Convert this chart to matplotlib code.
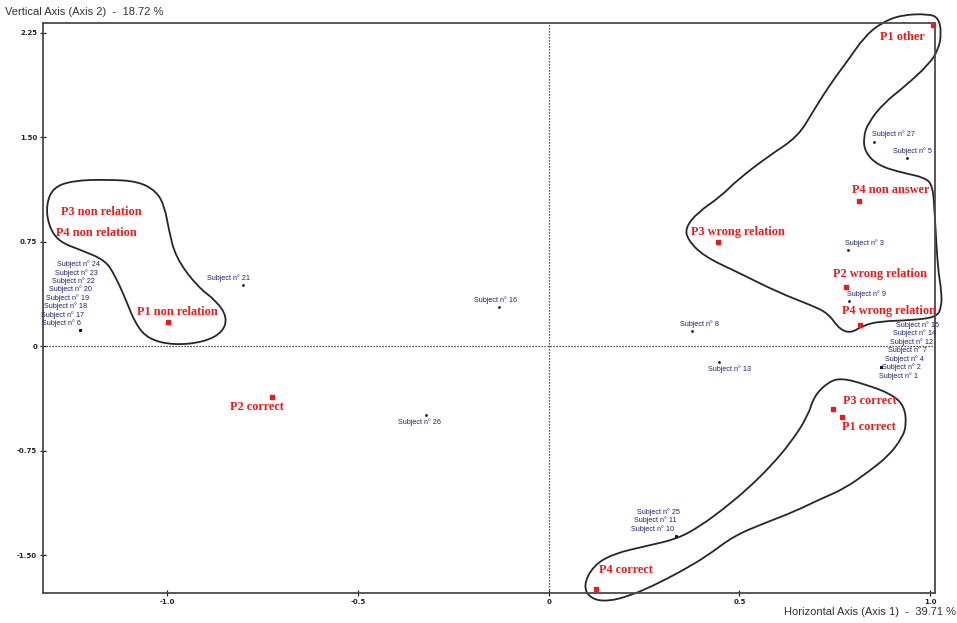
import numpy as np
import matplotlib
matplotlib.use("Agg")
import matplotlib.pyplot as plt
from matplotlib.path import Path
from matplotlib.patches import PathPatch

# Modalities (red squares) - coordinates on axis 1 / axis 2
modalities = ["P1 other", "P4 non answer", "P3 wrong relation", "P2 wrong relation",
              "P4 wrong relation", "P3 correct", "P1 correct", "P4 correct",
              "P1 non relation", "P2 correct"]
mod_x = [1.009, 0.814, 0.443, 0.780, 0.817, 0.746, 0.769, 0.125, -0.999, -0.725]
mod_y = [2.307, 1.039, 0.745, 0.423, 0.150, -0.451, -0.509, -1.741, 0.172, -0.366]

# modalities whose marker is not visible (only label shown)
hidden_mods = ["P3 non relation", "P4 non relation"]
hidden_x = [-1.174, -1.187]
hidden_y = [0.965, 0.813]

# Subjects (blue labels)
subjects = ["27", "5", "3", "9", "8", "21", "16", "13", "26",
            "6", "17", "18", "19", "20", "22", "23", "24",
            "1", "2", "4", "7", "12", "14", "15",
            "10", "11", "25"]
subj_x = [0.854, 0.940, 0.786, 0.788, 0.377, -0.801, -0.130, 0.446, -0.321,
          -1.228, -1.228, -1.228, -1.228, -1.228, -1.228, -1.228, -1.228,
          0.872, 0.872, 0.872, 0.872, 0.872, 0.872, 0.872,
          0.333, 0.333, 0.333]
subj_y = [1.468, 1.347, 0.688, 0.322, 0.107, 0.437, 0.279, -0.115, -0.494,
          0.115, 0.115, 0.115, 0.115, 0.115, 0.115, 0.115, 0.115,
          -0.150, -0.150, -0.150, -0.150, -0.150, -0.150, -0.150,
          -1.361, -1.361, -1.361]

# hand-drawn cluster outlines
left_x = [-1.299, -1.246, -1.154, -1.075, -1.028, -1.007, -0.996, -0.978, -0.922, -0.870,
          -0.843, -0.854, -0.904, -0.983, -1.049, -1.083, -1.109, -1.136, -1.162, -1.225,
          -1.286, -1.312, -1.317]
left_y = [1.139, 1.189, 1.196, 1.182, 1.110, 1.003, 0.838, 0.638, 0.430, 0.322,
          0.208, 0.100, 0.029, 0.007, 0.050, 0.158, 0.337, 0.501, 0.616, 0.688,
          0.752, 0.874, 1.017]
right_x = [0.872, 0.925, 0.996, 1.022, 1.030, 1.022, 0.996, 0.933, 0.880, 0.838, 0.825,
           0.830, 0.864, 0.925, 0.986, 1.007, 1.012, 1.017, 1.022, 1.030, 1.030, 1.017,
           0.951, 0.872, 0.825, 0.793, 0.762, 0.733, 0.688, 0.601, 0.496, 0.407, 0.364,
           0.359, 0.391, 0.451, 0.496, 0.575, 0.654, 0.696, 0.741, 0.786, 0.828]
right_y = [2.321, 2.378, 2.385, 2.357, 2.249, 2.128, 2.020, 1.862, 1.748, 1.605, 1.497,
           1.390, 1.297, 1.246, 1.211, 1.153, 0.960, 0.716, 0.530, 0.394, 0.279, 0.208,
           0.186, 0.179, 0.150, 0.093, 0.122, 0.236, 0.294, 0.387, 0.530, 0.645, 0.766,
           0.852, 0.960, 1.074, 1.196, 1.361, 1.504, 1.698, 1.891, 2.056, 2.221]
low_x = [0.733, 0.767, 0.828, 0.899, 0.933, 0.938, 0.925, 0.891, 0.838, 0.775, 0.714,
         0.643, 0.575, 0.486, 0.417, 0.346, 0.275, 0.214, 0.154, 0.109, 0.091, 0.117,
         0.170, 0.259, 0.338, 0.399, 0.459, 0.522, 0.583, 0.636, 0.680, 0.696]
low_y = [-0.258, -0.229, -0.272, -0.344, -0.430, -0.573, -0.666, -0.788, -0.903, -1.024,
         -1.096, -1.189, -1.261, -1.361, -1.504, -1.619, -1.719, -1.791, -1.834, -1.812,
         -1.719, -1.576, -1.490, -1.433, -1.383, -1.289, -1.168, -1.024, -0.860, -0.688,
         -0.501, -0.358]

xticks = [-1.0, -0.5, 0.0, 0.5, 1.0]
xtick_labels = ["-1.0", "-0.5", "0", "0.5", "1.0"]
yticks = [2.25, 1.50, 0.75, 0.0, -0.75, -1.50]
ytick_labels = ["2.25", "1.50", "0.75", "0", "-0.75", "-1.50"]

RED = "#f01818"
NAVY = "#1e1e78"


def smooth_outline(xs, ys):
    # closed quadratic-bezier path: outline vertices act as control points
    p = np.column_stack([xs, ys])
    mids = (p + np.roll(p, -1, axis=0)) / 2
    verts = [mids[-1]]
    codes = [Path.MOVETO]
    for i in range(len(p)):
        verts += [p[i], mids[i]]
        codes += [Path.CURVE3, Path.CURVE3]
    return Path(verts, codes)


fig = plt.figure(figsize=(9.57, 6.23), dpi=100)
ax = fig.add_axes([0.0452, 0.0482, 0.9318, 0.9154])
ax.set_xlim(-1.325, 1.013)
ax.set_ylim(-1.772, 2.322)

ax.axhline(0, color="#222222", lw=0.9, ls=(0, (1, 1.4)), zorder=1)
ax.axvline(0, color="#222222", lw=0.9, ls=(0, (1, 1.4)), zorder=1)

# outlines
for cx, cy in [(left_x, left_y), (right_x, right_y), (low_x, low_y)]:
    ax.add_patch(PathPatch(smooth_outline(cx, cy), facecolor="none", edgecolor="#262626",
                           lw=1.3, clip_on=False, zorder=2))

# modalities
ax.plot(mod_x, mod_y, ls="none", marker="s", ms=3.4, color=RED, zorder=4)
mod_offsets = {
    "P1 other": (-31.5, -12.7), "P4 non answer": (32, 11),
    "P3 wrong relation": (20.5, 10), "P2 wrong relation": (34, 13),
    "P4 wrong relation": (29, 14), "P3 correct": (37, 8),
    "P1 correct": (26.5, -10), "P4 correct": (29.5, 19),
    "P1 non relation": (9.5, 10), "P2 correct": (-15.5, -10),
}
serif = dict(family=["Liberation Serif", "DejaVu Serif"], fontsize=8.8, color=RED,
             fontweight="semibold")
for name, x, y in zip(modalities, mod_x, mod_y):
    ax.annotate(name, (x, y), xytext=mod_offsets[name], textcoords="offset pixels",
                ha="center", va="center", annotation_clip=False, zorder=5, **serif)
for name, x, y in zip(hidden_mods, hidden_x, hidden_y):
    ax.text(x, y, name, ha="center", va="center", zorder=5, **serif)

# subjects
ax.plot(subj_x, subj_y, ls="none", marker="o", ms=2.0, mew=0, color="#111133", zorder=4)
single = {"27": (19.5, 7), "5": (5.5, 7), "3": (16.5, 7), "9": (17, 7), "8": (7.5, 7),
          "21": (-15, 7), "16": (-3, 7), "13": (11, -7), "26": (-6.5, -7)}
groups = [
    (["6", "17", "18", "19", "20", "22", "23", "24"], "right", (1, 7), (2.7, 8.4)),
    (["1", "2", "4", "7", "12", "14", "15"], "left", (-2, -8.7), (2.8, 8.5)),
    (["10", "11", "25"], "right", (-2, 7), (3, 8.3)),
]
sans = dict(family=["Liberation Sans", "DejaVu Sans"], fontsize=5.2, color=NAVY)
lookup = {s: (x, y) for s, x, y in zip(subjects, subj_x, subj_y)}
for s, off in single.items():
    ax.annotate("Subject n° " + s, lookup[s], xytext=off, textcoords="offset pixels",
                ha="center", va="center", zorder=5, **sans)
for members, ha, base, step in groups:
    for i, s in enumerate(members):
        off = (base[0] + i * step[0], base[1] + i * step[1])
        ax.annotate("Subject n° " + s, lookup[s], xytext=off, textcoords="offset pixels",
                    ha=ha, va="center", zorder=5, **sans)

# axes styling
ax.set_xticks(xticks)
ax.set_xticklabels(xtick_labels, fontweight="bold")
ax.set_yticks(yticks)
ax.set_yticklabels(ytick_labels, fontweight="bold")
ax.tick_params(direction="inout", length=5, width=0.9, labelsize=5,
               colors="#222222", pad=2)
for sp in ax.spines.values():
    sp.set_color("#4a4a4a")
    sp.set_linewidth(1.3)

fig.text(5 / 957, 1 - 12 / 623, "Vertical Axis (Axis 2)  -  18.72 %",
         family=["Liberation Sans", "DejaVu Sans"], fontsize=8, color="#333333",
         ha="left", va="center")
fig.text(956 / 957, 1 - 612 / 623, "Horizontal Axis (Axis 1)  -  39.71 %",
         family=["Liberation Sans", "DejaVu Sans"], fontsize=8, color="#333333",
         ha="right", va="center")

fig.savefig("out.png", dpi=100)
